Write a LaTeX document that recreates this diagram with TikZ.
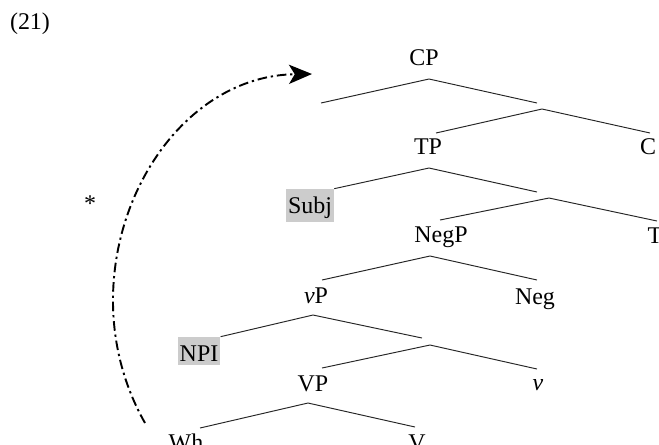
\documentclass[tikz,border=0pt]{standalone}
\usepackage{fontspec}
\setmainfont{Liberation Serif}
\usetikzlibrary{arrows.meta}

\begin{document}
\begin{tikzpicture}[
    x=0.01834cm, y=-0.01834cm,
    font=\fontsize{12.5}{15}\selectfont,
    cat/.style={anchor=base, inner sep=0pt},
    hilite/.style={cat, fill=gray!40, inner xsep=1pt, inner ysep=2pt, text height=10.5pt},
    branch/.style={line width=0.5pt, black!85},
    movement/.style={line width=1pt, dash pattern=on 5pt off 2pt on 1.2pt off 2pt,
        -{Stealth[length=12pt, width=10pt, inset=3pt]}},
]
\useasboundingbox (0,0) rectangle (659,444);
\clip (0,0) rectangle (659,444);

% Example number and judgement
\node[cat] (exno) at (30,29) {(21)};
\node[cat] (star) at (90,211) {*};

% Category labels
\node[cat] (cp) at (424,65) {CP};
\node[cat] (tp) at (428,154) {TP};
\node[cat] (comp) at (648,154) {C};
\node[hilite] (subj) at (310,213) {Subj};
\node[cat] (negp) at (441,242) {NegP};
\node[cat] (tense) at (655,243) {T};
\node[cat] (littlevp) at (316,303) {\textit{v}P};
\node[cat] (neg) at (535,304) {Neg};
\node[hilite] (npi) at (199,361) {NPI};
\node[cat] (vp) at (313,391) {VP};
\node[cat] (littlev) at (538,390) {\textit{v}};
\node[cat] (wh) at (186,450) {Wh};
\node[cat] (verb) at (417,450) {V};

% Branching points
\coordinate (cp-a) at (429,79);
\coordinate (cbar-a) at (542,109);
\coordinate (tp-a) at (429,168);
\coordinate (tbar-a) at (549,198);
\coordinate (negp-a) at (430,256);
\coordinate (littlevp-a) at (313,315);
\coordinate (vbar-a) at (430,345);
\coordinate (vp-a) at (308,403);

% Branch ends
\coordinate (speccp-e) at (321,103);
\coordinate (cbar-e) at (537,103);
\coordinate (tp-e) at (436,133);
\coordinate (comp-e) at (650,133);
\coordinate (tbar-e) at (537,192);
\coordinate (negp-e) at (440,220);
\coordinate (tense-e) at (657,221);
\coordinate (littlevp-e) at (322,280);
\coordinate (neg-e) at (537,280);
\coordinate (vbar-e) at (422,338);
\coordinate (vp-e) at (322,368);
\coordinate (littlev-e) at (537,369);
\coordinate (wh-e) at (200,428);
\coordinate (verb-e) at (415,427);

% Tree
\draw[branch] (speccp-e) -- (cp-a) -- (cbar-e);
\draw[branch] (tp-e) -- (cbar-a) -- (comp-e);
\draw[branch] (subj.north east) -- (tp-a) -- (tbar-e);
\draw[branch] (negp-e) -- (tbar-a) -- (tense-e);
\draw[branch] (littlevp-e) -- (negp-a) -- (neg-e);
\draw[branch] (npi.north east) -- (littlevp-a) -- (vbar-e);
\draw[branch] (vp-e) -- (vbar-a) -- (littlev-e);
\draw[branch] (wh-e) -- (vp-a) -- (verb-e);

% Movement of Wh
\coordinate (mv-start) at (145,423);
\coordinate (mv-end) at (312,74);
\draw[movement] (mv-start) .. controls (60,273) and (156,76) .. (mv-end);

\end{tikzpicture}
\end{document}
